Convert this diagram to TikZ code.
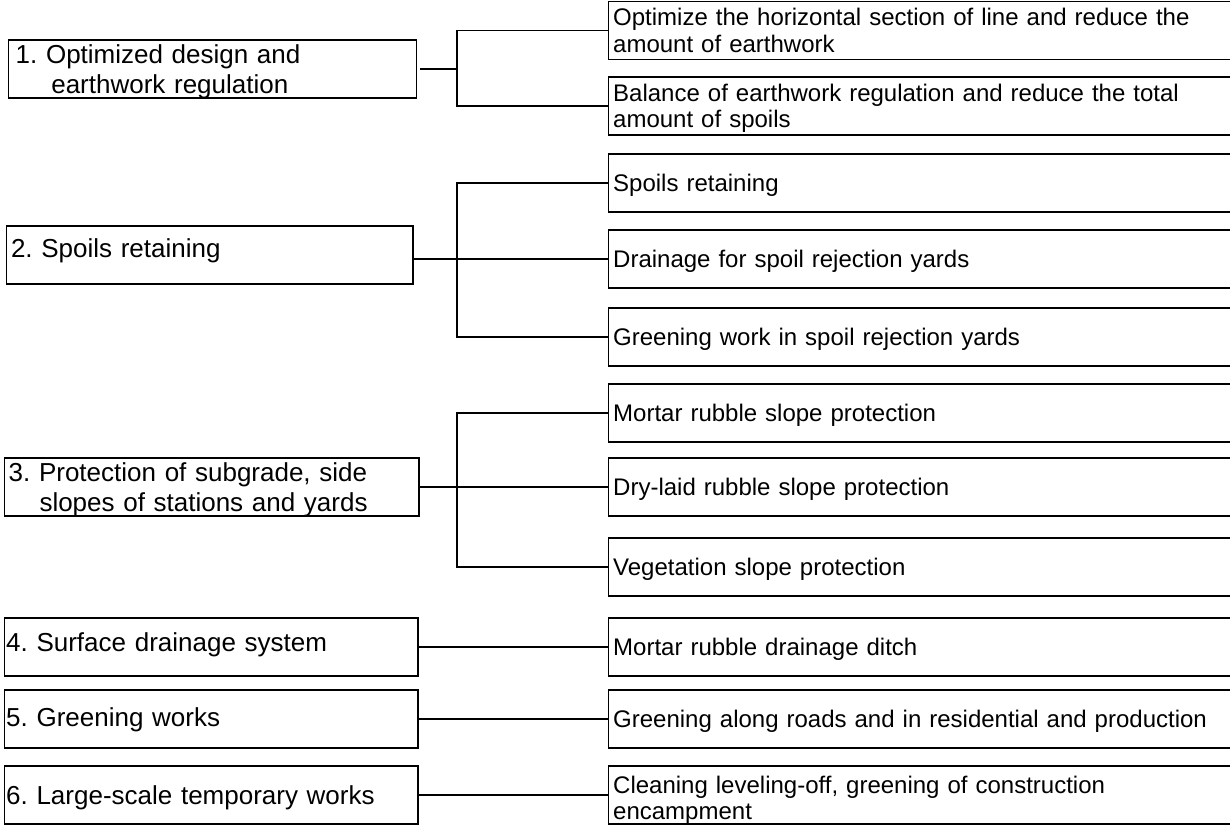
\documentclass[tikz,border=0pt]{standalone}
\usepackage{fontspec}
\setmainfont{Liberation Sans}
\usepackage{tikz}
\usetikzlibrary{graphs, positioning}

\frenchspacing
\newcommand{\bigtext}{\fontsize{26}{30.5}\selectfont}
\newcommand{\smalltext}{\fontsize{24}{26.7}\selectfont}

\tikzset{
	mainbox/.style={draw, anchor=north west, align=left, outer sep=0pt, inner ysep=0pt, minimum height=58pt, text height=18.6pt, text depth=0pt, font=\bigtext},
	subbox/.style={draw, align=left, outer sep=0pt, inner xsep=4.5pt, inner ysep=0pt, text width=622pt, minimum height=58pt, text height=17.2pt, text depth=0pt, font=\smalltext},
	twolines/.style={text depth=26.7pt},
}

\begin{document}
\begin{tikzpicture}[x=1pt, y=-1pt, line width=1.4pt]
		\useasboundingbox (0,0) rectangle (1230,825);
		\clip (0,0) rectangle (1230,825);
		
		% measures
		\node[subbox, twolines, anchor=north west]	(Horizontal) at (608.7,1.7) {Optimize the horizontal section of line and reduce the\\amount of earthwork};
		\node[subbox, twolines, below=17.3pt of Horizontal]	(Balance) {Balance of earthwork regulation and reduce the total\\amount of spoils};
		\node[subbox, below=19pt of Balance]	(Retaining) {Spoils retaining};
		\node[subbox, below=18pt of Retaining]	(SpoilDrainage) {Drainage for spoil rejection yards};
		\node[subbox, below=20pt of SpoilDrainage]	(SpoilGreening) {Greening work in spoil rejection yards};
		\node[subbox, below=18pt of SpoilGreening]	(Mortar) {Mortar rubble slope protection};
		\node[subbox, below=16pt of Mortar]	(DryLaid) {Dry-laid rubble slope protection};
		\node[subbox, below=22pt of DryLaid]	(Vegetation) {Vegetation slope protection};
		\node[subbox, below=22pt of Vegetation]	(Ditch) {Mortar rubble drainage ditch};
		\node[subbox, below=14pt of Ditch]	(RoadGreening) {Greening along roads and in residential and production};
		\node[subbox, twolines, text height=23pt, below=18pt of RoadGreening]	(Encampment) {Cleaning leveling-off, greening of construction\\encampment};
		
		% works
		\node[mainbox, text depth=30.5pt, inner xsep=7pt, text width=394pt]	(Design) at (8.7,40) {1. Optimized design and\\\hspace*{35.6pt}earthwork regulation};
		\node[mainbox, inner xsep=4.3pt, text width=397.7pt, text depth=14pt]	(Spoils) at (6.7,226) {2. Spoils retaining};
		\node[mainbox, text depth=30.5pt, inner xsep=4pt, text width=406.3pt, left=189.7pt of DryLaid]	(Protection) {3. Protection of subgrade, side\\\hspace*{30.8pt}slopes of stations and yards};
		\node[mainbox, inner xsep=1.5pt, text width=410.3pt, text depth=9.4pt, left=190.7pt of Ditch]	(Surface) {4. Surface drainage system};
		\node[mainbox, inner xsep=1.5pt, text width=410.3pt, text depth=3.4pt, left=190.7pt of RoadGreening]	(Greening) {5. Greening works};
		\node[mainbox, inner xsep=1.5pt, text width=410.3pt, left=190.7pt of Encampment]	(Temporary) {6. Large-scale temporary works};
		
		\coordinate (spine) at (457,0);
		\draw ([xshift=3.3pt]Design.east) -- (Design.east -| spine);
		\draw (Horizontal.west) -| (spine |- Design.east) |- (Balance.west);
		\draw (Spoils.east |- SpoilDrainage.west) -- (SpoilDrainage.west);
		\draw (Retaining.west) -| (spine |- SpoilDrainage.west) |- (SpoilGreening.west);
		\draw (Mortar.west) -| (spine |- DryLaid.west) |- (Vegetation.west);
		
		\graph {
			(Protection) -- (DryLaid);
			(Surface) -- (Ditch);
			(Greening) -- (RoadGreening);
			(Temporary) -- (Encampment);
		};
	\end{tikzpicture}
\end{document}
